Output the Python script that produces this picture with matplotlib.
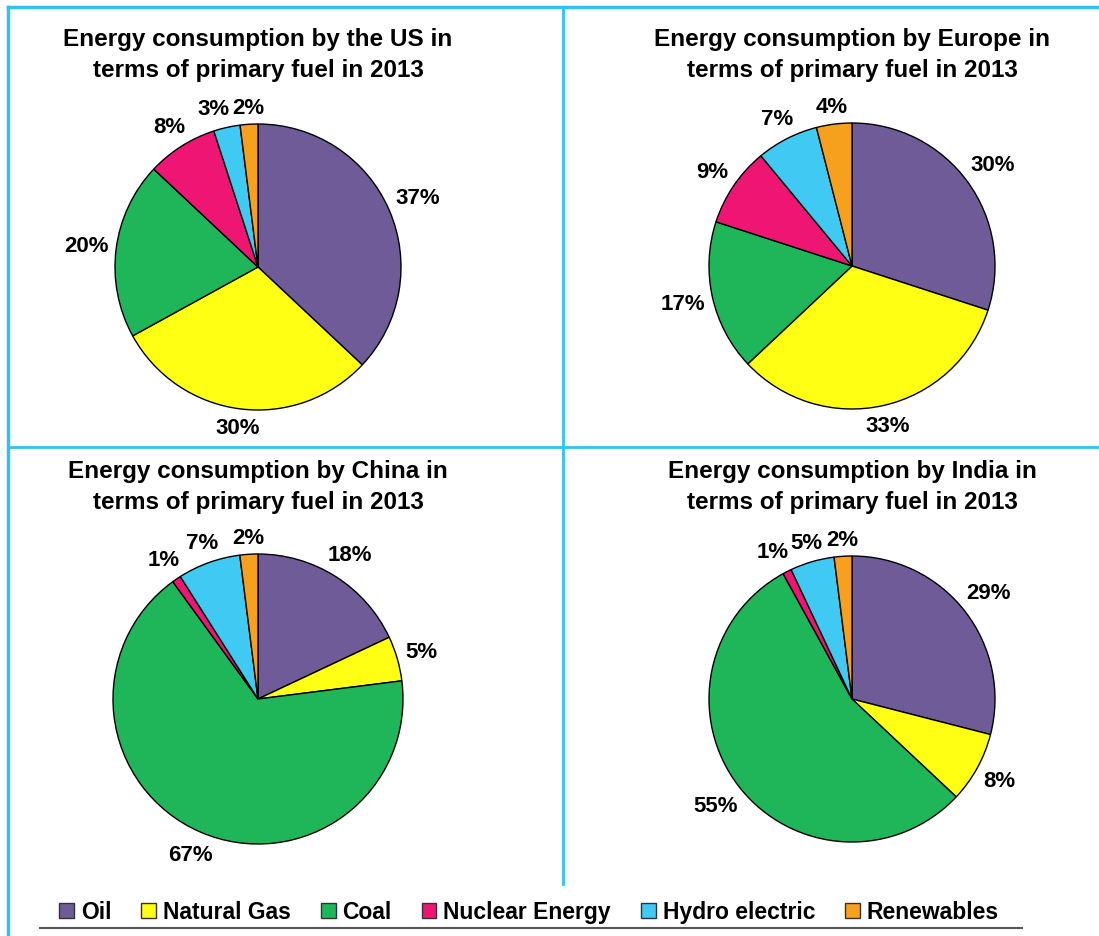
import matplotlib
matplotlib.use("Agg")
import matplotlib.pyplot as plt
from matplotlib.patches import Patch
import numpy as np

plt.rcParams['font.family'] = ['Liberation Sans', 'DejaVu Sans']

# data
fuels = ["Oil", "Natural Gas", "Coal", "Nuclear Energy", "Hydro electric", "Renewables"]
colors = ["#6E5B97", "#FFFF14", "#1FB65A", "#EF1673", "#3FC9F3", "#F7A01E"]

us = [37, 30, 20, 8, 3, 2]
europe = [30, 33, 17, 9, 7, 4]
china = [18, 5, 67, 1, 7, 2]
india = [29, 8, 55, 1, 5, 2]

titles = [
    "Energy consumption by the US in\nterms of primary fuel in 2013",
    "Energy consumption by Europe in\nterms of primary fuel in 2013",
    "Energy consumption by China in\nterms of primary fuel in 2013",
    "Energy consumption by India in\nterms of primary fuel in 2013",
]
series = [us, europe, china, india]

W, H = 1099, 937
fig = plt.figure(figsize=(W / 100, H / 100), dpi=100)

# background axes in pixel coords for frame lines and titles
bg = fig.add_axes([0, 0, 1, 1])
bg.set_xlim(0, W)
bg.set_ylim(H, 0)
bg.axis('off')
cyan = "#2EC3F2"
bg.plot([8, W], [8, 8], color=cyan, lw=2.5)
bg.plot([8, 8], [8, H], color=cyan, lw=2.5)
bg.plot([8, W], [448, 448], color=cyan, lw=2)
bg.plot([563, 563], [8, 885], color=cyan, lw=2)
bg.plot([40, 1022], [929, 929], color="#555555", lw=1.5)

# pie layout: (center x, center y, radius, title y) in pixels
layout = [(258, 268, 143, 55), (852, 267, 143, 55),
          (258, 700, 145, 487), (852, 700, 143, 487)]

LFS = 16  # label font size
digit_w, pct_w, lab_h = 12.4, 19.8, 18

for vals, title, (cx, cy, r, ty) in zip(series, titles, layout):
    bg.text(cx, ty, title, ha='center', va='center', fontsize=17.5,
            fontweight='bold', linespacing=1.4)

    ext = 1.6
    ax = fig.add_axes([(cx - ext * r) / W, 1 - (cy + ext * r) / H,
                       2 * ext * r / W, 2 * ext * r / H])
    ax.pie(vals, colors=colors, startangle=90, counterclock=False, radius=1,
           wedgeprops=dict(edgecolor='black', linewidth=1))
    ax.set_xlim(-ext, ext)
    ax.set_ylim(-ext, ext)
    ax.axis('off')

    # outside-end labels: box just clear of the rim (pixel offsets from centre)
    total = float(sum(vals))
    start = 0.0
    pos = []
    for v in vals:
        mid = np.deg2rad(90 - (start + v / 2) / total * 360)
        start += v
        lab = "%d%%" % v
        w = digit_w * (len(lab) - 1) + pct_w
        off = r + 7 + (w / 2) * abs(np.cos(mid)) + (lab_h / 2) * abs(np.sin(mid))
        pos.append([off * np.cos(mid), off * np.sin(mid), w, lab])

    # push crowded labels near the top to the left
    for i in range(len(pos) - 2, -1, -1):
        x0, y0, w0, _ = pos[i]
        x1, y1, w1, _ = pos[i + 1]
        if abs(y0 - y1) < lab_h and x0 + w0 / 2 > x1 - w1 / 2 - 2 and x0 < x1:
            pos[i][0] = x1 - w1 / 2 - w0 / 2 - 2

    for x, y, w, lab in pos:
        ax.text(x / r, y / r, lab, ha='center', va='center',
                fontsize=LFS, fontweight='bold')

handles = [Patch(facecolor=c, edgecolor='#333333', linewidth=1) for c in colors]
fig.legend(handles, fuels, loc='center', bbox_to_anchor=(529 / W, 1 - 913 / H),
           ncol=6, frameon=False, handlelength=0.65, handleheight=0.65,
           handletextpad=0.3, columnspacing=1.3,
           prop=dict(size=16.5, weight='bold'))

fig.savefig("out.png", dpi=100)
